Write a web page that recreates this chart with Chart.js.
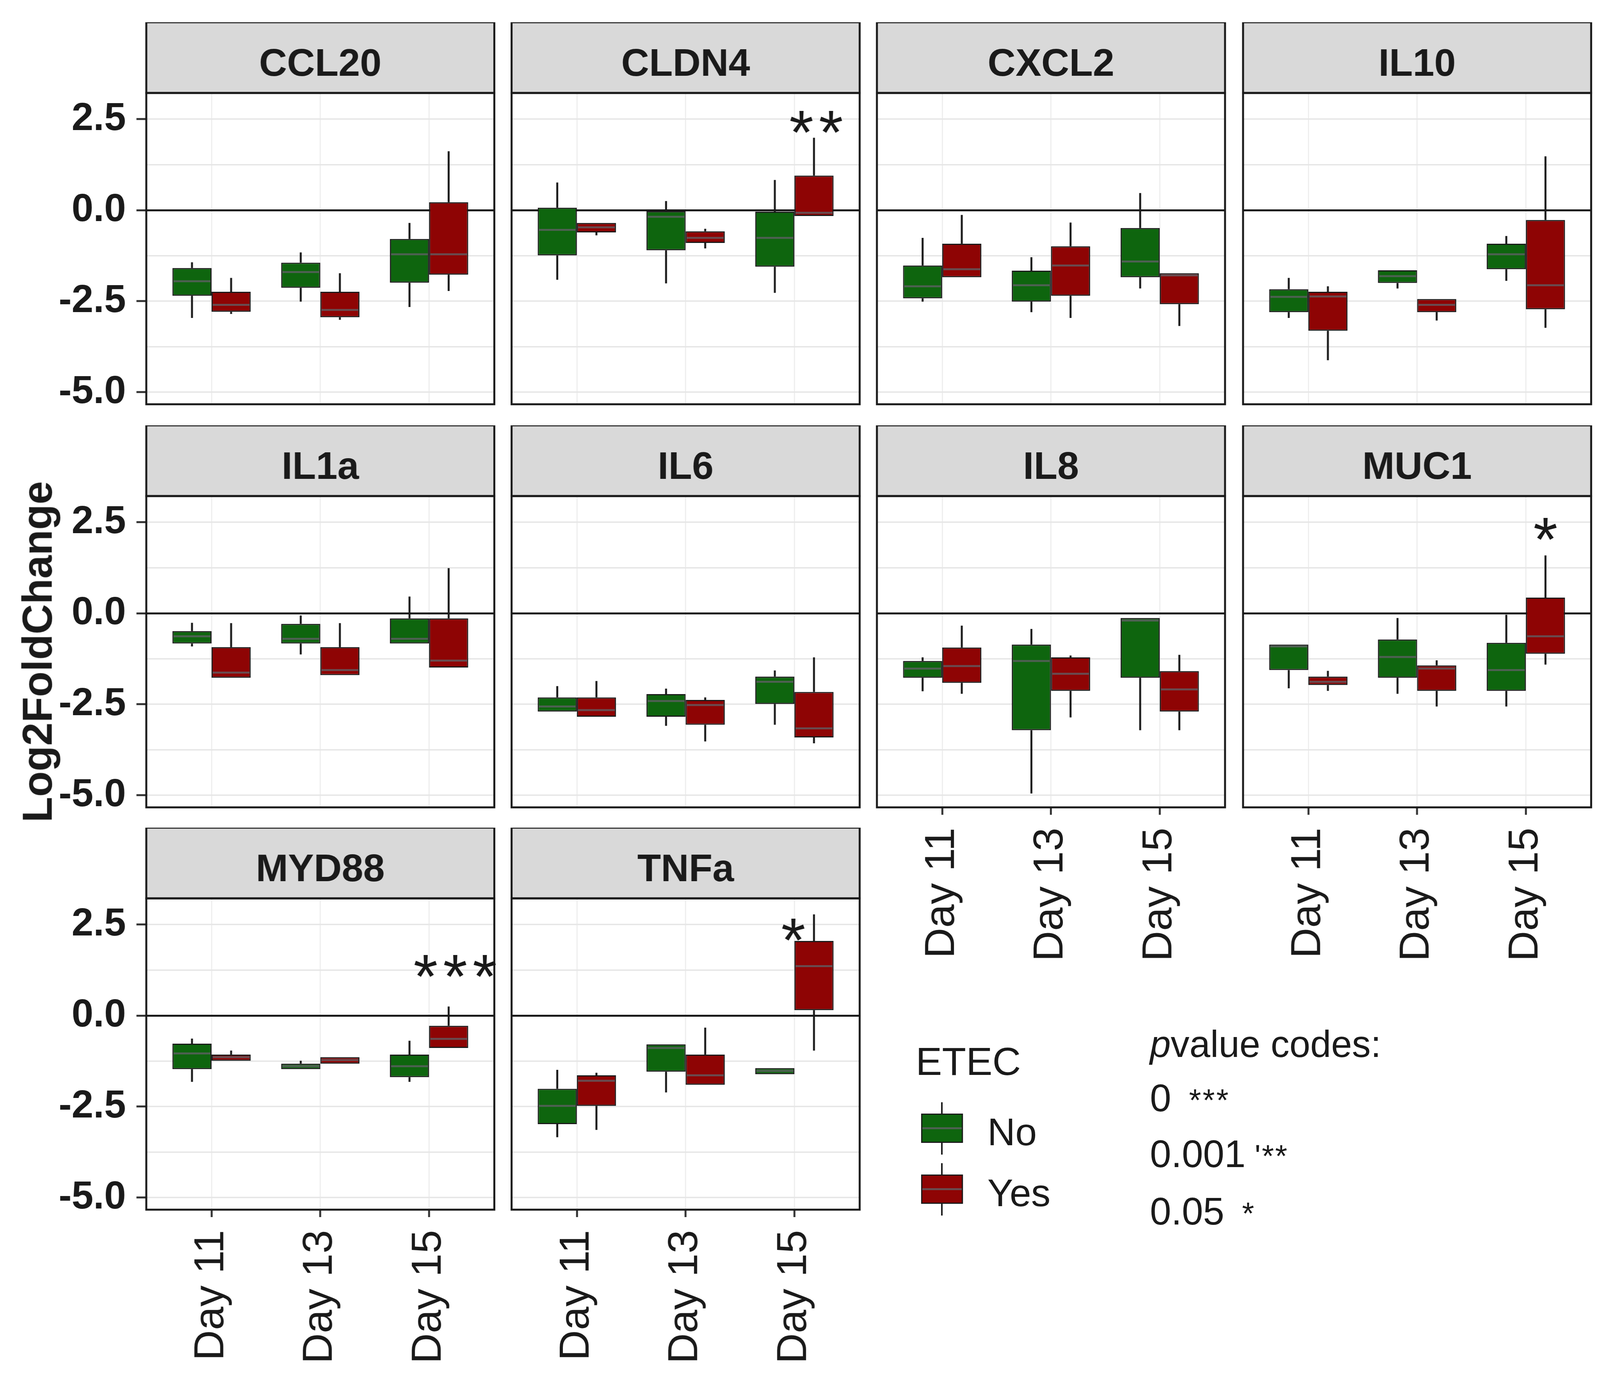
<!DOCTYPE html>
<html>
<head>
<meta charset="utf-8">
<title>Log2FoldChange by day and ETEC</title>
<script src="https://cdn.jsdelivr.net/npm/chart.js@4.4.1/dist/chart.umd.min.js"></script>
<style>
  html, body { margin: 0; padding: 0; background: #fff; overflow: hidden; }
  #page { position: absolute; left: 0; top: 0; height: 3551px; overflow: hidden; background: #fff;
          transform-origin: 0 0; font-family: "Liberation Sans", Arial, sans-serif; color: #1a1a1a; }
  #page canvas { position: absolute; }
  .txt { position: absolute; white-space: nowrap; line-height: 1; }
  .blk { position: absolute; box-sizing: border-box; }
</style>
</head>
<body>
<div id="page"></div>
<script>
const genes = ["CCL20", "CLDN4", "CXCL2", "IL10", "IL1a", "IL6", "IL8", "MUC1", "MYD88", "TNFa"];
const days = ["Day 11", "Day 13", "Day 15"];
const etec = ["No", "Yes"];

// one box per day: [lower whisker, Q1, median, Q3, upper whisker]
const CCL20_No  = [[-2.96, -2.35, -1.95, -1.59, -1.43], [-2.51, -2.13, -1.70, -1.44, -1.16], [-2.66, -1.99, -1.21, -0.79, -0.35]];
const CCL20_Yes = [[-2.85, -2.79, -2.60, -2.24, -1.86], [-3.01, -2.94, -2.74, -2.24, -1.73], [-2.22, -1.77, -1.21, 0.22, 1.62]];
const CLDN4_No  = [[-1.91, -1.24, -0.54, 0.07, 0.76], [-2.01, -1.10, -0.18, 0.00, 0.25], [-2.27, -1.55, -0.76, -0.04, 0.83]];
const CLDN4_Yes = [[-0.69, -0.61, -0.47, -0.35, -0.35], [-1.05, -0.90, -0.76, -0.58, -0.51], [-0.16, -0.16, -0.07, 0.95, 1.99]];
const CXCL2_No  = [[-2.51, -2.42, -2.09, -1.52, -0.76], [-2.80, -2.51, -2.06, -1.66, -1.29], [-2.15, -1.84, -1.41, -0.49, 0.47]];
const CXCL2_Yes = [[-1.84, -1.84, -1.62, -0.92, -0.13], [-2.96, -2.35, -1.52, -0.99, -0.34], [-3.18, -2.58, -1.79, -1.73, -1.73]];
const IL10_No   = [[-2.96, -2.80, -2.38, -2.17, -1.86], [-2.15, -2.00, -1.81, -1.65, -1.65], [-1.94, -1.62, -1.21, -0.92, -0.71]];
const IL10_Yes  = [[-4.12, -3.31, -2.37, -2.24, -2.09], [-3.03, -2.80, -2.60, -2.44, -2.44], [-3.23, -2.72, -2.06, -0.27, 1.48]];
const IL1a_No   = [[-0.91, -0.83, -0.63, -0.49, -0.26], [-1.13, -0.83, -0.70, -0.29, -0.06], [-0.83, -0.83, -0.70, -0.14, 0.46]];
const IL1a_Yes  = [[-1.77, -1.77, -1.63, -0.93, -0.27], [-1.70, -1.70, -1.56, -0.93, -0.27], [-1.49, -1.49, -1.30, -0.14, 1.24]];
const IL6_No    = [[-2.70, -2.70, -2.56, -2.31, -2.00], [-3.09, -2.84, -2.41, -2.22, -2.07], [-3.06, -2.49, -1.88, -1.74, -1.57]];
const IL6_Yes   = [[-2.84, -2.84, -2.66, -2.31, -1.86], [-3.52, -3.06, -2.52, -2.38, -2.31], [-3.57, -3.41, -3.16, -2.16, -1.21]];
const IL8_No    = [[-2.14, -1.77, -1.52, -1.31, -1.21], [-4.95, -3.21, -1.31, -0.86, -0.43], [-3.21, -1.77, -0.20, -0.13, -0.13]];
const IL8_Yes   = [[-2.21, -1.91, -1.45, -0.94, -0.34], [-2.86, -2.13, -1.66, -1.21, -1.16], [-3.21, -2.70, -2.09, -1.59, -1.14]];
const MUC1_No   = [[-2.06, -1.56, -0.91, -0.86, -0.86], [-2.21, -1.77, -1.20, -0.72, -0.13], [-2.56, -2.13, -1.56, -0.81, -0.04]];
const MUC1_Yes  = [[-2.13, -1.97, -1.88, -1.74, -1.58], [-2.56, -2.13, -1.52, -1.43, -1.29], [-1.41, -1.11, -0.63, 0.43, 1.59]];
const MYD88_No  = [[-1.82, -1.47, -1.04, -0.77, -0.63], [-1.47, -1.47, -1.39, -1.32, -1.24], [-1.82, -1.69, -1.39, -1.07, -0.69]];
const MYD88_Yes = [[-1.24, -1.24, -1.14, -1.07, -0.96], [-1.32, -1.32, -1.22, -1.14, -1.14], [-0.89, -0.89, -0.64, -0.28, 0.25]];
const TNFa_No   = [[-3.34, -2.98, -2.48, -2.01, -1.49], [-2.11, -1.54, -0.89, -0.79, -0.79], [-1.61, -1.61, -1.52, -1.44, -1.44]];
const TNFa_Yes  = [[-3.14, -2.48, -1.79, -1.64, -1.57], [-1.90, -1.90, -1.64, -1.07, -0.33], [-0.96, 0.15, 1.36, 2.05, 2.78]];

const boxes = {
  CCL20: [CCL20_No, CCL20_Yes], CLDN4: [CLDN4_No, CLDN4_Yes], CXCL2: [CXCL2_No, CXCL2_Yes],
  IL10: [IL10_No, IL10_Yes], IL1a: [IL1a_No, IL1a_Yes], IL6: [IL6_No, IL6_Yes],
  IL8: [IL8_No, IL8_Yes], MUC1: [MUC1_No, MUC1_Yes], MYD88: [MYD88_No, MYD88_Yes], TNFa: [TNFa_No, TNFa_Yes]
};

// significance marks (x in day units, 1 = Day 11)
const sigGenes = ["CLDN4", "MUC1", "MYD88", "TNFa"];
const sigText  = ["**", "*", "***", "*"];
const sigX     = [3.2, 3.18, 3.24, 2.99];
const sigY     = [2.53, 2.43, 1.47, 2.47];

const yGrid = [-5, -3.75, -2.5, -1.25, 0, 1.25, 2.5];
const yLabelled = [-5, -2.5, 0, 2.5];

const FONT = '"Liberation Sans", Arial, sans-serif';
const boxFill = ["#0e650e", "#8e0404"];
const INK = "#1a1a1a";
const MEDIAN = "rgba(95,95,100,0.8)";

// the original figure is stretched horizontally; draw narrow, then stretch the page
const XS = 1.11;
const X = v => v / XS;

// facet layout (reference px)
const colLeft = [416, 1455, 2494, 3535];
const rowTop = [57, 1089, 2119];
const panelW = 990, stripH = 181, plotH = 797;

Chart.defaults.font.family = FONT;

const facetPlugin = {
  id: "facet",
  beforeDatasetsDraw(chart) {
    const ctx = chart.ctx, y = chart.scales.y;
    ctx.save();
    ctx.strokeStyle = INK;
    ctx.lineWidth = 5;
    chart.data.datasets.forEach((ds, i) => {
      chart.getDatasetMeta(i).data.forEach((bar, j) => {
        const b = ds.stats[j];
        ctx.beginPath();
        ctx.moveTo(bar.x, y.getPixelForValue(b[0]));
        ctx.lineTo(bar.x, y.getPixelForValue(b[1]));
        ctx.moveTo(bar.x, y.getPixelForValue(b[3]));
        ctx.lineTo(bar.x, y.getPixelForValue(b[4]));
        ctx.stroke();
      });
    });
    ctx.restore();
  },
  afterDatasetsDraw(chart) {
    const ctx = chart.ctx, y = chart.scales.y;
    ctx.save();
    ctx.strokeStyle = MEDIAN;
    ctx.lineWidth = 5;
    chart.data.datasets.forEach((ds, i) => {
      chart.getDatasetMeta(i).data.forEach((bar, j) => {
        const m = y.getPixelForValue(ds.stats[j][2]);
        ctx.beginPath();
        ctx.moveTo(bar.x - bar.width / 2 + 3, m);
        ctx.lineTo(bar.x + bar.width / 2 - 3, m);
        ctx.stroke();
      });
    });
    ctx.restore();
  },
  afterDraw(chart, args, opts) {
    const ctx = chart.ctx;
    const {left, right, top, bottom} = chart.chartArea;
    ctx.save();
    // strip
    ctx.fillStyle = "#d9d9d9";
    ctx.fillRect(left, top - stripH, right - left, stripH);
    ctx.strokeStyle = INK;
    ctx.lineWidth = 5;
    ctx.strokeRect(left, top - stripH, right - left, stripH);
    ctx.strokeRect(left, top, right - left, bottom - top);
    ctx.fillStyle = INK;
    ctx.font = "bold 99px " + FONT;
    ctx.textAlign = "center";
    ctx.textBaseline = "alphabetic";
    ctx.fillText(opts.gene, (left + right) / 2, top - 44);
    // significance stars
    const s = sigGenes.indexOf(opts.gene);
    if (s >= 0) {
      const n = sigText[s].length;
      const cx = chart.scales.x.getPixelForValue(sigX[s]);
      const base = chart.scales.y.getPixelForValue(sigY[s]) + 0.575 * 160;
      ctx.font = "160px " + FONT;
      for (let k = 0; k < n; k++) {
        ctx.fillText("*", cx + (k - (n - 1) / 2) * X(84), base);
      }
    }
    ctx.restore();
  }
};

const page = document.getElementById("page");
page.style.width = X(4550) + "px";

genes.forEach((gene, k) => {
  const row = Math.floor(k / 4), col = k % 4;
  const isLeft = col === 0;
  const isBottom = k >= 6;
  const axW = isLeft ? X(colLeft[0]) : X(4);
  const axH = isBottom ? 450 : 4;
  const w = Math.round(axW + X(panelW) + X(4)), h = stripH + plotH + axH;

  const canvas = document.createElement("canvas");
  canvas.width = w;
  canvas.height = h;
  canvas.style.left = (X(colLeft[col]) - axW) + "px";
  canvas.style.top = rowTop[row] + "px";
  canvas.style.width = w + "px";
  canvas.style.height = h + "px";
  page.appendChild(canvas);

  new Chart(canvas, {
    type: "bar",
    data: {
      datasets: etec.map((g, s) => ({
        label: g,
        stats: boxes[gene][s],
        data: boxes[gene][s].map((b, d) => ({x: d + 1, y: [b[1], b[3]]})),
        backgroundColor: boxFill[s],
        borderColor: INK,
        borderWidth: 3,
        borderSkipped: false,
        categoryPercentage: 0.72,
        barPercentage: 1
      }))
    },
    options: {
      responsive: false,
      devicePixelRatio: 1,
      animation: false,
      layout: {padding: {top: stripH, right: X(4), left: 0, bottom: 0}},
      plugins: {
        legend: {display: false},
        tooltip: {enabled: false},
        facet: {gene: gene}
      },
      scales: {
        x: {
          type: "linear",
          min: 0.4,
          max: 3.6,
          offset: false,
          afterBuildTicks: axis => { axis.ticks = days.map((d, i) => ({value: i + 1})); },
          afterFit: axis => { axis.height = axH; axis.paddingLeft = 0; axis.paddingRight = 0; },
          border: {display: false},
          grid: {
            offset: false,
            color: "#ebebeb",
            lineWidth: 2.5,
            drawTicks: isBottom,
            tickLength: 19,
            tickColor: "#333333",
            tickWidth: 5
          },
          ticks: {
            display: isBottom,
            autoSkip: false,
            minRotation: 90,
            maxRotation: 90,
            padding: 33,
            color: INK,
            font: {size: 108},
            callback: v => days[Math.round(v) - 1]
          }
        },
        y: {
          type: "linear",
          min: -5.33,
          max: 3.22,
          afterBuildTicks: axis => { axis.ticks = yGrid.map(v => ({value: v})); },
          afterFit: axis => { axis.width = axW; axis.paddingTop = 0; axis.paddingBottom = 0; },
          border: {display: false},
          grid: {
            color: c => (c.tick && c.tick.value === 0) ? INK : "#e6e6e6",
            lineWidth: c => (c.tick && c.tick.value === 0) ? 5 : 3.5,
            drawTicks: isLeft,
            tickLength: X(28),
            tickWidth: 5,
            tickColor: c => (c.tick && yLabelled.includes(c.tick.value)) ? "#333333" : "rgba(0,0,0,0)"
          },
          ticks: {
            display: isLeft,
            padding: X(30),
            color: INK,
            font: {size: 100, weight: "bold"},
            callback: v => yLabelled.includes(v) ? v.toFixed(1) : ""
          }
        }
      }
    },
    plugins: [facetPlugin]
  });
});

// text helpers (baseline placement, line-height 1)
function addText(html, x, baseline, size, extra) {
  const d = document.createElement("div");
  d.className = "txt";
  d.innerHTML = html;
  d.style.left = X(x) + "px";
  d.style.top = (baseline - 0.8465 * size) + "px";
  d.style.fontSize = size + "px";
  Object.assign(d.style, extra || {});
  page.appendChild(d);
  return d;
}
function addBlock(x, y, w, h, style) {
  const d = document.createElement("div");
  d.className = "blk";
  d.style.left = X(x) + "px";
  d.style.top = y + "px";
  d.style.width = X(w) + "px";
  d.style.height = h + "px";
  Object.assign(d.style, style);
  page.appendChild(d);
}

// y axis title (baseline at x = 148)
const yt = document.createElement("div");
yt.className = "txt";
yt.textContent = "Log2FoldChange";
const ytSize = 107, ytCx = X(148) - (0.8465 - 0.5) * ytSize;
Object.assign(yt.style, {
  left: (ytCx - 600) + "px", top: (1668 - ytSize / 2) + "px", width: "1200px", height: ytSize + "px",
  fontSize: ytSize + "px", fontWeight: "bold", textAlign: "center", transform: "rotate(-90deg)"
});
page.appendChild(yt);

// ETEC legend
addText("ETEC", 2604, 2752, 101);
const keyTop = [2851, 3007];
etec.forEach((g, s) => {
  const t = keyTop[s];
  addBlock(2676, t - 29, 5, 134, {background: INK});
  addBlock(2620, t, 118, 75, {background: boxFill[s], border: "3px solid " + INK});
  addBlock(2623, t + 35, 112, 5, {background: MEDIAN});
  addText(g, 2808, t + 81, 99);
});

// p-value codes
addText("<i>p</i>value codes:", 3270, 2706, 96);
addText("0", 3270, 2845, 98);
addText("***", 3381, 2845, 80, {letterSpacing: "4px"});
addText("0.001", 3270, 2988, 98);
addText("'**", 3568, 2988, 80, {letterSpacing: "3px"});
addText("0.05", 3270, 3135, 98);
addText("*", 3532, 3135, 80);

// fit the 4550 x 3551 figure to the window
function fitPage() {
  const vw = document.documentElement.clientWidth || window.innerWidth;
  const vh = document.documentElement.clientHeight || window.innerHeight;
  page.style.transform = "scale(" + (XS * vw / 4550) + "," + (vh / 3551) + ")";
}
fitPage();
window.addEventListener("resize", fitPage);
</script>
</body>
</html>
